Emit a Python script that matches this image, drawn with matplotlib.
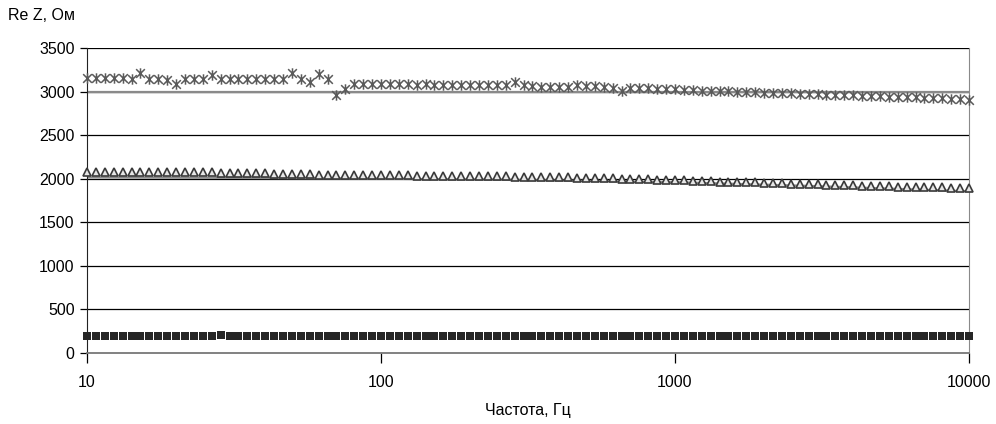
import matplotlib
matplotlib.use("Agg")
import matplotlib.pyplot as plt
import numpy as np
from matplotlib.path import Path

plt.rcParams['font.family'] = ['Liberation Sans', 'DejaVu Sans']

# частотная сетка измерений (100 точек, равномерно по логарифму)
freq = np.geomspace(10, 10000, 100)

# Re Z, серия со звёздочками
re_star = [3155, 3155, 3160, 3155, 3155, 3150, 3210, 3150, 3150, 3135,
           3090, 3140, 3145, 3150, 3185, 3140, 3145, 3140, 3140, 3145,
           3140, 3145, 3150, 3210, 3150, 3115, 3200, 3140, 2960, 3025,
           3085, 3085, 3085, 3090, 3085, 3090, 3085, 3080, 3085, 3080,
           3080, 3080, 3075, 3080, 3075, 3075, 3070, 3070, 3110, 3075,
           3065, 3050, 3050, 3050, 3055, 3070, 3065, 3060, 3050, 3045,
           3010, 3040, 3040, 3040, 3035, 3035, 3030, 3020, 3015, 3012,
           3008, 3005, 3002, 2998, 2995, 2992, 2988, 2985, 2982, 2978,
           2975, 2972, 2968, 2965, 2962, 2958, 2955, 2952, 2948, 2945,
           2942, 2938, 2935, 2932, 2928, 2925, 2922, 2918, 2914, 2908]

# Re Z, серия с треугольниками
re_tri = [2080, 2080, 2080, 2080, 2080, 2080, 2080, 2080, 2080, 2080,
          2078, 2076, 2075, 2073, 2072, 2070, 2068, 2066, 2065, 2063,
          2060, 2058, 2056, 2054, 2052, 2050, 2048, 2040, 2046, 2045,
          2044, 2043, 2042, 2040, 2039, 2038, 2037, 2036, 2035, 2034,
          2033, 2032, 2031, 2030, 2029, 2028, 2027, 2026, 2025, 2024,
          2022, 2020, 2018, 2016, 2014, 2012, 2010, 2008, 2006, 2004,
          2002, 2000, 1996, 1992, 1989, 1986, 1982, 1980, 1977, 1974,
          1971, 1968, 1966, 1963, 1960, 1957, 1954, 1951, 1948, 1945,
          1942, 1939, 1936, 1933, 1930, 1927, 1924, 1921, 1918, 1915,
          1912, 1910, 1908, 1906, 1904, 1902, 1900, 1898, 1896, 1894]

# Re Z, серия с квадратами
re_sq = [200, 200, 200, 200, 200, 200, 200, 200, 200, 200,
         200, 200, 200, 200, 200, 210, 200, 200, 200, 200,
         200, 200, 200, 200, 200, 200, 200, 200, 200, 200,
         200, 200, 200, 200, 200, 200, 200, 200, 200, 200,
         200, 200, 200, 200, 200, 200, 200, 200, 200, 200,
         200, 200, 200, 200, 200, 200, 200, 200, 200, 200,
         200, 200, 200, 200, 200, 200, 200, 200, 200, 200,
         200, 200, 200, 200, 200, 200, 200, 200, 200, 200,
         200, 200, 200, 200, 200, 200, 200, 200, 200, 200,
         200, 200, 200, 200, 200, 200, 200, 200, 200, 200]

# расчётные кривые (серые линии)
model_f = [10, 30, 100, 300, 1000, 3000, 10000]
model_hi = [3000, 3000, 3000, 3000, 3000, 3000, 3000]
model_lo = [2015, 2010, 2000, 1985, 1960, 1915, 1855]

# маркер "звёздочка" как в Excel: X + вертикальная черта
star = Path([(-1, -1), (1, 1), (-1, 1), (1, -1), (0, -1.2), (0, 1.2)],
            [Path.MOVETO, Path.LINETO, Path.MOVETO, Path.LINETO,
             Path.MOVETO, Path.LINETO])

fig = plt.figure(figsize=(9.96, 4.24), dpi=100)
ax = fig.add_axes([87 / 996, 71 / 424, 882 / 996, 305 / 424])

ax.set_xscale('log')
ax.set_xlim(10, 10000)
ax.set_ylim(0, 3500)

for y in range(500, 3501, 500):
    ax.axhline(y, color='black', lw=0.9, zorder=1)

ax.plot(model_f, model_hi, color='#8a8a8a', lw=1.6, zorder=2)
ax.plot(model_f, model_lo, color='#8a8a8a', lw=1.6, zorder=2)

ax.plot(freq, re_star, ls='none', marker=star, ms=7.5, mew=1.1,
        color='#5a5a5a', clip_on=False, zorder=3)
ax.plot(freq, re_tri, ls='none', marker='^', ms=6, mew=1.2,
        mfc='#e6e6e6', mec='#3a3a3a', clip_on=False, zorder=3)
ax.plot(freq, re_sq, ls='none', marker='s', ms=5.6, mew=0,
        color='#262626', clip_on=False, zorder=3)

ax.spines['top'].set_visible(False)
ax.spines['right'].set_color('#8a8a8a')
ax.spines['bottom'].set_color('#777777')
ax.spines['bottom'].set_linewidth(1.3)
ax.spines['left'].set_color('#222222')

ax.set_yticks(range(0, 3501, 500))
ax.set_xticks([10, 100, 1000, 10000])
ax.set_xticklabels(['10', '100', '1000', '10000'])
ax.xaxis.set_minor_locator(matplotlib.ticker.NullLocator())
ax.tick_params(axis='y', direction='out', length=5, width=0.9, labelsize=11.5, pad=4)
ax.tick_params(axis='x', direction='out', length=7, width=0.9, labelsize=11.5, pad=9)

fig.text(8 / 996, 1 - 15 / 424, 'Re Z, Ом', fontsize=11.5, ha='left', va='center')
ax.set_xlabel('Частота, Гц', fontsize=11.5, labelpad=9)

fig.savefig('out.png', dpi=100)
